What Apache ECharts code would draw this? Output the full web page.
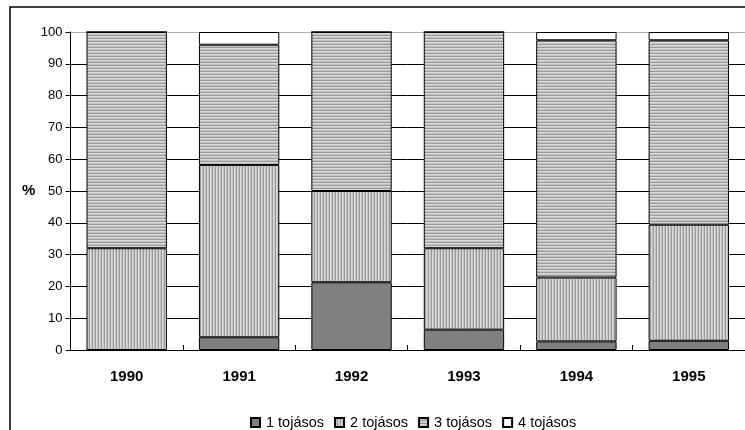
<!DOCTYPE html>
<html>
<head>
<meta charset="utf-8">
<style>
  html, body { margin: 0; padding: 0; background: #fff; }
  #chart { width: 745px; height: 430px; }
</style>
<script src="https://cdn.jsdelivr.net/npm/echarts@6/dist/echarts.min.js"></script>
</head>
<body>
<div id="chart"></div>
<script>
// Share of clutch sizes per year (%)
const years = ['1990', '1991', '1992', '1993', '1994', '1995'];
const seriesNames = ['1 tojásos', '2 tojásos', '3 tojásos', '4 tojásos'];
const egg1 = [0, 4, 21.3, 6.4, 2.7, 2.9];
const egg2 = [32, 54.2, 28.7, 25.6, 20.1, 36.5];
const egg3 = [68, 37.8, 50, 68, 74.6, 58];
const egg4 = [0, 4, 0, 0, 2.6, 2.6];
const yTicks = [0, 10, 20, 30, 40, 50, 60, 70, 80, 90, 100];

// Striped fills built on small canvases and tiled
function stripes(vertical) {
  const c = document.createElement('canvas');
  c.width = vertical ? 3 : 1;
  c.height = vertical ? 1 : 3;
  const ctx = c.getContext('2d');
  const shades = ['#d9d9d9', '#c4c4c4', '#9a9a9a'];
  for (let i = 0; i < 3; i++) {
    ctx.fillStyle = shades[i];
    if (vertical) ctx.fillRect(i, 0, 1, 1); else ctx.fillRect(0, i, 1, 1);
  }
  return { image: c, repeat: 'repeat' };
}

const fills = ['#808080', stripes(true), stripes(false), '#ffffff'];
const values = [egg1, egg2, egg3, egg4];

const chart = echarts.init(document.getElementById('chart'), null, { renderer: 'canvas' });

const font = '"Liberation Sans", Arial, sans-serif';

chart.setOption({
  animation: false,
  backgroundColor: '#fff',
  textStyle: { fontFamily: font, color: '#000' },
  grid: { left: 70.5, top: 32, width: 678, height: 318, containLabel: false },
  legend: {
    data: seriesNames,
    left: 245,
    top: 410,
    itemWidth: 9,
    itemHeight: 9,
    itemGap: 10,
    icon: 'rect',
    textStyle: { fontFamily: font, fontSize: 14.5, color: '#000', padding: [0, 0, 0, 1] }
  },
  xAxis: {
    type: 'category',
    data: years,
    axisLine: { lineStyle: { color: '#000', width: 1 } },
    axisTick: { show: true, inside: true, length: 5, lineStyle: { color: '#000' } },
    axisLabel: { fontFamily: font, fontSize: 15, fontWeight: 'bold', color: '#000', margin: 19 },
    splitLine: { show: false }
  },
  yAxis: {
    type: 'value',
    min: 0,
    max: 100,
    interval: 10,
    axisLine: { show: true, lineStyle: { color: '#000', width: 1 } },
    axisTick: { show: true, length: 5, lineStyle: { color: '#000' } },
    axisLabel: { fontFamily: font, fontSize: 13, color: '#000', margin: 8 },
    splitLine: {
      show: true,
      lineStyle: {
        color: yTicks.map(v => (v === 100 ? '#b0b0b0' : '#000')),
        width: 1
      }
    }
  },
  series: seriesNames.map((name, i) => ({
    name: name,
    type: 'bar',
    stack: 'total',
    barCategoryGap: '28.5%',
    data: values[i],
    itemStyle: { color: fills[i], borderColor: '#000', borderWidth: 1 }
  })),
  graphic: [
    {
      type: 'rect',
      shape: { x: 10, y: 7, width: 800, height: 500 },
      style: { fill: null, stroke: '#000', lineWidth: 1.5 },
      silent: true,
      z: -10
    },
    {
      type: 'text',
      left: 22,
      top: 183,
      style: { text: '%', font: 'bold 15px ' + font, fill: '#000' }
    }
  ]
});
</script>
</body>
</html>
